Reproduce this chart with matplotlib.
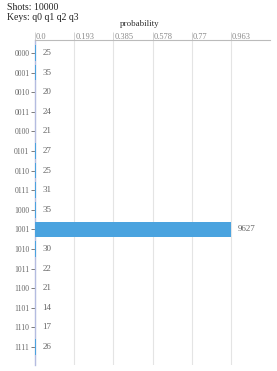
import matplotlib.pyplot as plt
from matplotlib.transforms import offset_copy

states = ["0000", "0001", "0010", "0011", "0100", "0101", "0110", "0111",
          "1000", "1001", "1010", "1011", "1100", "1101", "1110", "1111"]
counts = [25, 35, 20, 24, 21, 27, 25, 31, 35, 9627, 30, 22, 21, 14, 17, 26]
shots = 10000

probs = [c / shots for c in counts]
pmax = max(probs)
xticks = [pmax * i / 5 for i in range(6)]
xtick_labels = ["0.0", "0.193", "0.385", "0.578", "0.77", "0.963"]

plt.rcParams["font.family"] = ["Liberation Serif", "DejaVu Serif"]

fig = plt.figure(figsize=(2.77, 3.71), dpi=100)
ax = fig.add_axes([35 / 277, 1 - 365 / 371, 235 / 277, 325 / 371])

y = list(range(len(states)))
ax.barh(y, probs, height=0.8, color="#4aa3df", zorder=3)
for yi, p, c in zip(y, probs, counts):
    ax.annotate(str(c), (p, yi), xytext=(5, 0), textcoords="offset points",
                va="center", ha="left", fontsize=6.5, color="#666666")

ax.set_xlim(0, pmax * 1.2)
ax.set_ylim(len(states) - 1 + 0.92, -0.66)

ax.xaxis.tick_top()
ax.set_xticks(xticks)
ax.set_xticklabels(xtick_labels)
ax.tick_params(axis="x", length=6, width=0.6, color="#cccccc", pad=-6.5,
               labelsize=6, labelcolor="#888888")
for lab in ax.get_xticklabels():
    lab.set_horizontalalignment("left")
    lab.set_transform(offset_copy(lab.get_transform(), fig=fig, x=1, y=0, units="dots"))

ax.set_yticks(y)
ax.set_yticklabels(states)
ax.tick_params(axis="y", length=3, width=0.6, color="#666666", pad=1,
               labelsize=5.5, labelcolor="#666666")

ax.grid(axis="x", color="#e4e4e4", linewidth=0.8, zorder=0)
for side in ["right", "bottom"]:
    ax.spines[side].set_visible(False)
ax.spines["top"].set_color("#bbbbbb")
ax.spines["top"].set_linewidth(0.8)
ax.spines["left"].set_color("#b4bce0")
ax.spines["left"].set_linewidth(1.0)

fig.text(140 / 277, 1 - 24 / 371, "probability", ha="center", va="center",
         fontsize=6.5, color="#333333")
fig.text(7 / 277, 1 - 8 / 371, f"Shots: {shots}", ha="left", va="center",
         fontsize=7, color="#222222")
fig.text(7 / 277, 1 - 17 / 371, "Keys: q0 q1 q2 q3", ha="left", va="center",
         fontsize=7, color="#222222")

fig.savefig("out.png", dpi=100)
